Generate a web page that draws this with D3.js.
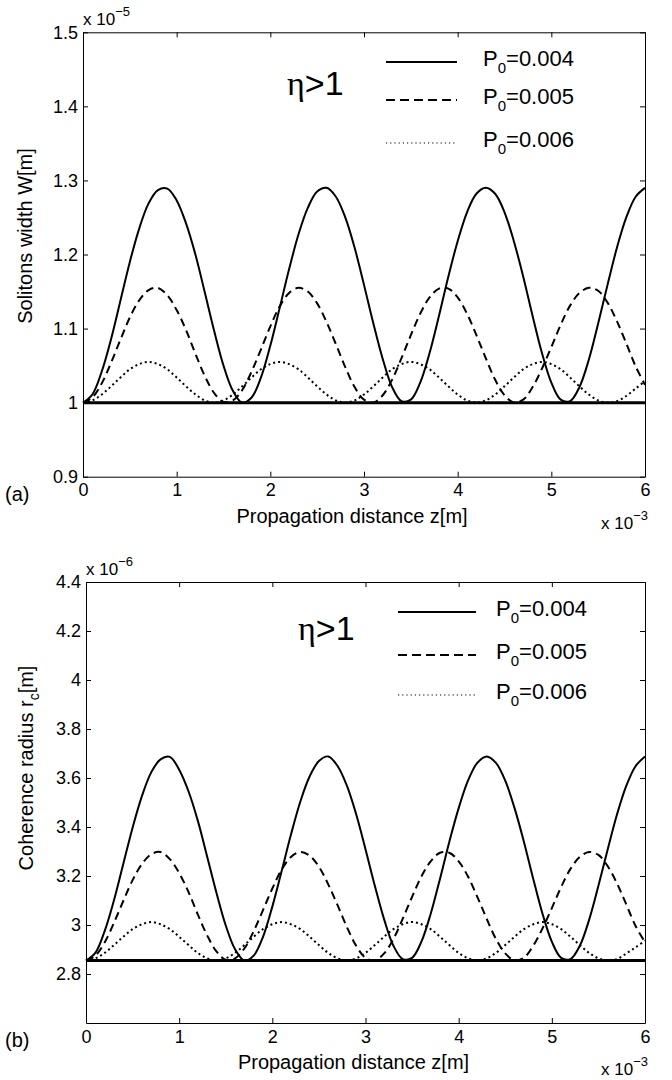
<!DOCTYPE html>
<html>
<head>
<meta charset="utf-8">
<script src="https://cdn.jsdelivr.net/npm/d3@7"></script>
<style>
  body { margin: 0; background: #fff; }
  text { font-family: "Liberation Sans", Arial, Helvetica, sans-serif; fill: #000; }
</style>
</head>
<body>
<div id="chart"></div>
<script>
// 1: DATA (z in units of 1e-3 m, W in 1e-5 m, rc in 1e-6 m)
const zGrid = [0, 0.1, 0.2, 0.3, 0.4, 0.5, 0.6, 0.7, 0.8, 0.9, 1.0, 1.1, 1.2, 1.3, 1.4, 1.5, 1.6, 1.7, 1.8, 1.9,
  2.0, 2.1, 2.2, 2.3, 2.4, 2.5, 2.6, 2.7, 2.8, 2.9, 3.0, 3.1, 3.2, 3.3, 3.4, 3.5, 3.6, 3.7, 3.8, 3.9,
  4.0, 4.1, 4.2, 4.3, 4.4, 4.5, 4.6, 4.7, 4.8, 4.9, 5.0, 5.1, 5.2, 5.3, 5.4, 5.5, 5.6, 5.7, 5.8, 5.9, 6.0];

// panel (a): solitons width
const widthP004 = [1.000, 1.011, 1.042, 1.086, 1.138, 1.190, 1.235, 1.269, 1.287, 1.289, 1.273, 1.242, 1.200, 1.149, 1.097, 1.050, 1.016, 1.000, 1.007, 1.034,
  1.077, 1.128, 1.180, 1.227, 1.263, 1.285, 1.290, 1.278, 1.250, 1.209, 1.159, 1.107, 1.059, 1.021, 1.002, 1.004, 1.027, 1.067, 1.117, 1.170,
  1.218, 1.257, 1.282, 1.290, 1.282, 1.257, 1.218, 1.170, 1.117, 1.067, 1.027, 1.004, 1.002, 1.021, 1.058, 1.107, 1.159, 1.209, 1.250, 1.278, 1.290];
const widthP005 = [1.000, 1.007, 1.026, 1.054, 1.085, 1.115, 1.138, 1.152, 1.155, 1.145, 1.125, 1.098, 1.066, 1.036, 1.013, 1.001, 1.003, 1.017, 1.042, 1.072,
  1.103, 1.130, 1.148, 1.155, 1.150, 1.134, 1.109, 1.079, 1.048, 1.021, 1.004, 1.000, 1.010, 1.031, 1.060, 1.091, 1.120, 1.142, 1.154, 1.154,
  1.142, 1.120, 1.091, 1.060, 1.031, 1.010, 1.000, 1.004, 1.021, 1.046, 1.075, 1.105, 1.131, 1.148, 1.155, 1.151, 1.135, 1.110, 1.080, 1.049, 1.024];
const widthP006 = [1.000, 1.003, 1.011, 1.022, 1.034, 1.045, 1.052, 1.055, 1.052, 1.045, 1.034, 1.022, 1.011, 1.003, 1.000, 1.003, 1.011, 1.022, 1.034, 1.045,
  1.052, 1.055, 1.052, 1.045, 1.034, 1.022, 1.011, 1.003, 1.000, 1.003, 1.011, 1.022, 1.034, 1.045, 1.052, 1.055, 1.052, 1.045, 1.034, 1.022,
  1.011, 1.003, 1.000, 1.003, 1.011, 1.022, 1.034, 1.045, 1.052, 1.055, 1.052, 1.045, 1.034, 1.022, 1.011, 1.003, 1.000, 1.002, 1.009, 1.019, 1.029];
const widthBase = [1.0, 1.0];

// panel (b): coherence radius
const radiusP004 = [2.855, 2.886, 2.975, 3.101, 3.249, 3.397, 3.526, 3.623, 3.676, 3.686, 3.634, 3.546, 3.426, 3.280, 3.132, 2.998, 2.901, 2.855, 2.875, 2.952,
  3.075, 3.220, 3.369, 3.503, 3.606, 3.669, 3.688, 3.649, 3.569, 3.452, 3.309, 3.160, 3.023, 2.915, 2.861, 2.866, 2.932, 3.046, 3.189, 3.340,
  3.477, 3.589, 3.662, 3.688, 3.662, 3.589, 3.477, 3.340, 3.189, 3.046, 2.932, 2.866, 2.861, 2.915, 3.021, 3.160, 3.309, 3.452, 3.569, 3.649, 3.688];
const radiusP005 = [2.855, 2.875, 2.929, 3.009, 3.098, 3.183, 3.249, 3.289, 3.298, 3.269, 3.212, 3.135, 3.043, 2.958, 2.892, 2.858, 2.864, 2.904, 2.975, 3.061,
  3.149, 3.226, 3.278, 3.298, 3.283, 3.238, 3.166, 3.081, 2.992, 2.915, 2.866, 2.855, 2.884, 2.943, 3.026, 3.115, 3.198, 3.260, 3.295, 3.295,
  3.260, 3.198, 3.115, 3.026, 2.943, 2.884, 2.855, 2.866, 2.915, 2.986, 3.069, 3.155, 3.229, 3.278, 3.298, 3.286, 3.240, 3.169, 3.083, 2.995, 2.930];
const radiusP006 = [2.855, 2.864, 2.886, 2.918, 2.952, 2.983, 3.003, 3.012, 3.003, 2.983, 2.952, 2.918, 2.886, 2.864, 2.855, 2.864, 2.886, 2.918, 2.952, 2.983,
  3.003, 3.012, 3.003, 2.983, 2.952, 2.918, 2.886, 2.864, 2.855, 2.864, 2.886, 2.918, 2.952, 2.983, 3.003, 3.012, 3.003, 2.983, 2.952, 2.918,
  2.886, 2.864, 2.855, 2.864, 2.886, 2.918, 2.952, 2.983, 3.003, 3.012, 3.003, 2.983, 2.952, 2.918, 2.886, 2.864, 2.855, 2.861, 2.884, 2.909, 2.936];
const radiusBase = [2.855, 2.855];

const baseZ = [0, 6];
const xTicks = [0, 1, 2, 3, 4, 5, 6];
const widthTicks = [0.9, 1, 1.1, 1.2, 1.3, 1.4, 1.5];
const radiusTicks = [2.8, 3, 3.2, 3.4, 3.6, 3.8, 4, 4.2, 4.4];
const powerLabels = ["0.004", "0.005", "0.006"];

// 2: SVG + panel layout
const svg = d3.select("#chart")
    .append("svg")
    .attr("width", 672)
    .attr("height", 1080);

svg.append("rect").attr("width", 672).attr("height", 1080).attr("fill", "#fff");

const styles = [
    { dash: null, width: 2 },
    { dash: "8,5", width: 2 },
    { dash: "2,3", width: 2 }
];
const legendStyles = [
    { dash: null, width: 2 },
    { dash: "9,5", width: 2.2 },
    { dash: "1.2,3", width: 1.2 }
];

const panels = [
    {
        tag: "(a)", left: 83, right: 645, top: 32.3, bottom: 476.7,
        yDomain: [0.9, 1.5], yTicks: widthTicks, yExp: "\u22125",
        yLabel: ["Solitons width W[m]", null, null], yLabelX: 32, yLabelY: 236,
        series: [widthP004, widthP005, widthP006], base: widthBase,
        legend: { x1: 386, x2: 457, ys: [62, 100, 143], textX: 483 },
        eta: { x: 287, y: 95 }
    },
    {
        tag: "(b)", left: 86, right: 645, top: 582, bottom: 1023,
        yDomain: [2.6, 4.4], yTicks: radiusTicks, yExp: "\u22126",
        yLabel: ["Coherence radius r", "c", "[m]"], yLabelX: 33, yLabelY: 768,
        series: [radiusP004, radiusP005, radiusP006], base: radiusBase,
        legend: { x1: 398, x2: 476, ys: [612, 655, 695], textX: 496 },
        eta: { x: 298, y: 640 }
    }
];

panels.forEach(p => {
    const g = svg.append("g");

    // 3: scales
    const x = d3.scaleLinear().domain([0, 6]).range([p.left, p.right]);
    const y = d3.scaleLinear().domain(p.yDomain).range([p.bottom, p.top]);

    // 4: curves
    const line = d3.line()
        .x(d => x(d.z))
        .y(d => y(d.v))
        .curve(d3.curveCatmullRom.alpha(0.5));

    g.append("path")
        .attr("d", line(baseZ.map((z, i) => ({ z: z, v: p.base[i] }))))
        .attr("fill", "none")
        .attr("stroke", "#000")
        .attr("stroke-width", 3);

    p.series.forEach((vals, k) => {
        g.append("path")
            .attr("d", line(zGrid.map((z, i) => ({ z: z, v: vals[i] }))))
            .attr("fill", "none")
            .attr("stroke", "#000")
            .attr("stroke-width", styles[k].width)
            .attr("stroke-dasharray", styles[k].dash);
    });

    // 5: axes (matlab box, inward ticks)
    const axisFont = sel => sel.attr("font-size", 18).attr("font-family", "'Liberation Sans', Arial, sans-serif");

    g.append("g")
        .attr("transform", `translate(0,${p.bottom})`)
        .call(d3.axisBottom(x).tickValues(xTicks).tickSizeInner(-5).tickSizeOuter(0).tickPadding(7).tickFormat(d3.format("d")))
        .call(axisFont);

    g.append("g")
        .attr("transform", `translate(0,${p.top})`)
        .call(d3.axisTop(x).tickValues(xTicks).tickSizeInner(-5).tickSizeOuter(0).tickFormat(""));

    g.append("g")
        .attr("transform", `translate(${p.left},0)`)
        .call(d3.axisLeft(y).tickValues(p.yTicks).tickSizeInner(-5).tickSizeOuter(0).tickPadding(5).tickFormat(d => String(d)))
        .call(axisFont);

    g.append("g")
        .attr("transform", `translate(${p.right},0)`)
        .call(d3.axisRight(y).tickValues(p.yTicks).tickSizeInner(-5).tickSizeOuter(0).tickFormat(""));

    g.selectAll(".domain").attr("stroke", "#000");
    g.selectAll(".tick line").attr("stroke", "#000");

    // 6: labels
    const yExp = g.append("text")
        .attr("x", p.left)
        .attr("y", p.top - 7)
        .attr("font-size", 17)
        .text("x 10");
    yExp.append("tspan").attr("dy", -9).attr("font-size", 13).text(p.yExp);

    const xExp = g.append("text")
        .attr("x", p.right - 44)
        .attr("y", p.bottom + 52)
        .attr("font-size", 17)
        .text("x 10");
    xExp.append("tspan").attr("dy", -9).attr("font-size", 13).text("\u22123");

    g.append("text")
        .attr("x", (p.left + p.right) / 2 - 12)
        .attr("y", p.bottom + 46)
        .attr("text-anchor", "middle")
        .attr("font-size", 20)
        .text("Propagation distance z[m]");

    g.append("text")
        .attr("x", 5)
        .attr("y", p.bottom + 24)
        .attr("font-size", 20)
        .text(p.tag);

    const yl = g.append("text")
        .attr("transform", `translate(${p.yLabelX},${p.yLabelY}) rotate(-90)`)
        .attr("text-anchor", "middle")
        .attr("font-size", 20)
        .text(p.yLabel[0]);
    if (p.yLabel[1]) {
        yl.append("tspan").attr("dy", 6).attr("font-size", 14).text(p.yLabel[1]);
        yl.append("tspan").attr("dy", -6).attr("font-size", 20).text(p.yLabel[2]);
    }

    // eta > 1 annotation
    const eta = g.append("text")
        .attr("x", p.eta.x)
        .attr("y", p.eta.y)
        .attr("font-size", 34);
    eta.append("tspan").attr("font-family", "'Liberation Serif', 'Times New Roman', serif").text("\u03b7");
    eta.append("tspan").text(">1");

    // legend
    powerLabels.forEach((lab, k) => {
        const ly = p.legend.ys[k];
        g.append("line")
            .attr("x1", p.legend.x1).attr("x2", p.legend.x2)
            .attr("y1", ly).attr("y2", ly)
            .attr("stroke", "#000")
            .attr("stroke-width", legendStyles[k].width)
            .attr("stroke-dasharray", legendStyles[k].dash);
        const t = g.append("text")
            .attr("x", p.legend.textX)
            .attr("y", ly + 4)
            .attr("font-size", 22)
            .text("P");
        t.append("tspan").attr("dy", 7).attr("font-size", 15).text("0");
        t.append("tspan").attr("dy", -7).attr("font-size", 22).text("=" + lab);
    });
});
</script>
</body>
</html>
